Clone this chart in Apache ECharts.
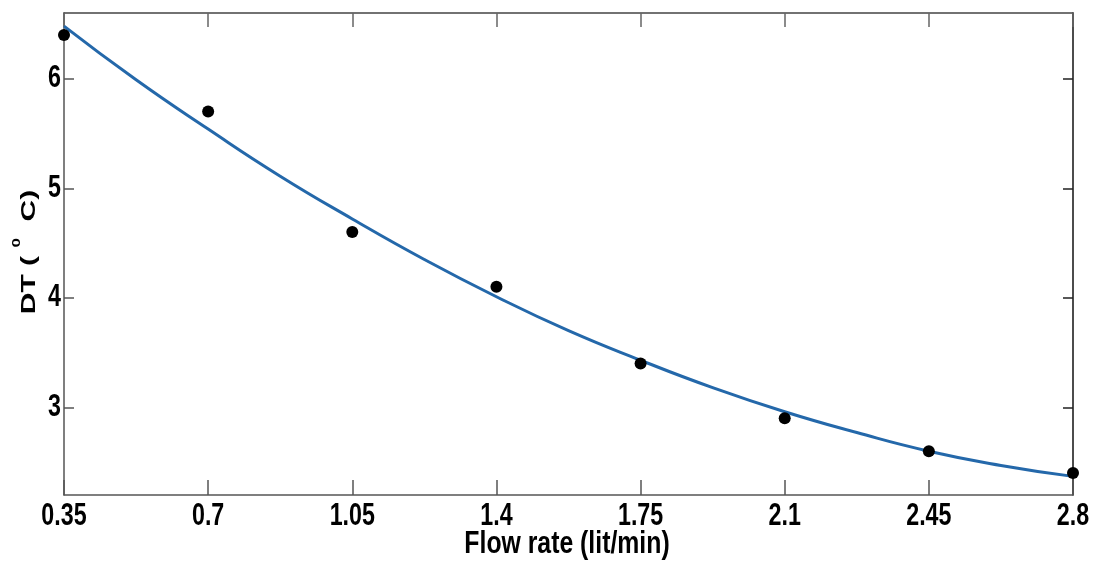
<!DOCTYPE html>
<html>
<head>
<meta charset="utf-8">
<script src="https://cdn.jsdelivr.net/npm/echarts@6/dist/echarts.min.js"></script>
<style>
html,body{margin:0;padding:0;background:#fff;}
#chart{width:1093px;height:571px;}
</style>
</head>
<body>
<div id="chart"></div>
<script>
// Measured points
const flowRate = [0.35, 0.7, 1.05, 1.4, 1.75, 2.1, 2.45, 2.8];
const deltaT   = [6.4, 5.7, 4.6, 4.1, 3.4, 2.9, 2.6, 2.4];
// Fitted curve
const curveX = [0.35, 0.525, 0.7, 0.875, 1.05, 1.225, 1.4, 1.575, 1.75, 1.925, 2.1, 2.275, 2.45, 2.625, 2.8];
const curveY = [6.48, 5.99, 5.54, 5.11, 4.72, 4.35, 4.01, 3.70, 3.43, 3.18, 2.96, 2.77, 2.60, 2.47, 2.37];
// Tick labels
const xTicks = [0.35, 0.7, 1.05, 1.4, 1.75, 2.1, 2.45, 2.8];
const yTicks = [3, 4, 5, 6];
const xTitle = 'Flow rate (lit/min)';

const FONT = '"Liberation Sans", Arial, sans-serif';
const chart = echarts.init(document.getElementById('chart'), null, {renderer: 'canvas'});
const option = {
  animation: false,
  backgroundColor: '#ffffff',
  grid: {left: 64, right: 20, top: 13, bottom: 76, containLabel: false},
  xAxis: [{
    type: 'value', min: 0.35, max: 2.8, interval: 0.35, position: 'bottom',
    axisLine: {show: true, onZero: false, lineStyle: {color: '#555', width: 1.5}},
    axisTick: {show: true, inside: true, length: 15, lineStyle: {color: '#555', width: 1.5}},
    axisLabel: {show: false},
    splitLine: {show: false}
  }, {
    type: 'value', min: 0.35, max: 2.8, interval: 0.35, position: 'top',
    axisLine: {show: true, onZero: false, lineStyle: {color: '#444', width: 1.5}},
    axisTick: {show: true, inside: true, length: 14, lineStyle: {color: '#666', width: 1.5}},
    axisLabel: {show: false},
    splitLine: {show: false}
  }],
  yAxis: [{
    type: 'value', min: 2.2, max: 6.6, position: 'left',
    axisLine: {show: true, onZero: false, lineStyle: {color: '#555', width: 1.5}},
    axisTick: {show: true, inside: true, length: 10, customValues: yTicks, lineStyle: {color: '#555', width: 1.5}},
    axisLabel: {show: false},
    splitLine: {show: false}
  }, {
    type: 'value', min: 2.2, max: 6.6, position: 'right',
    axisLine: {show: true, onZero: false, lineStyle: {color: '#111', width: 1.5}},
    axisTick: {show: true, inside: true, length: 10, customValues: yTicks, lineStyle: {color: '#222', width: 1.5}},
    axisLabel: {show: false},
    splitLine: {show: false}
  }],
  series: [{
    type: 'line', name: 'fit', xAxisIndex: 0, yAxisIndex: 0,
    data: curveX.map((x, i) => [x, curveY[i]]),
    smooth: true, showSymbol: false, symbol: 'none',
    lineStyle: {color: '#2468aa', width: 3}, z: 2, clip: false
  }, {
    type: 'scatter', name: 'data', xAxisIndex: 0, yAxisIndex: 0,
    data: flowRate.map((x, i) => [x, deltaT[i]]),
    symbol: 'circle', symbolSize: 12,
    itemStyle: {color: '#000', opacity: 1}, z: 3, clip: false
  }]
};
chart.setOption(option);

// Tick labels and axis titles as text, placed through the axes' own scales
const gfx = [];
xTicks.forEach(v => {
  const px = chart.convertToPixel({xAxisIndex: 0}, v);
  gfx.push({type: 'text', x: px, y: 516, scaleX: 0.75, z: 10,
    style: {text: String(v), fontFamily: FONT, fontWeight: 'bold', fontSize: 31, fill: '#000', align: 'center', verticalAlign: 'middle'}});
});
yTicks.forEach(v => {
  const py = chart.convertToPixel({yAxisIndex: 0}, v);
  gfx.push({type: 'text', x: 61, y: py, scaleX: 0.75, z: 10,
    style: {text: String(v), fontFamily: FONT, fontWeight: 'bold', fontSize: 31, fill: '#000', align: 'right', verticalAlign: 'middle'}});
});
gfx.push({type: 'text', x: 567, y: 544, scaleX: 0.8, z: 10,
  style: {text: xTitle, fontFamily: FONT, fontWeight: 'bold', fontSize: 31, fill: '#000', align: 'center', verticalAlign: 'middle'}});
gfx.push({type: 'text', x: 25, y: 252, rotation: Math.PI / 2, scaleY: 0.68, z: 10,
  style: {text: '{a|DT ( }{s|0}{a|  C)}', align: 'center', verticalAlign: 'middle',
    rich: {
      a: {fontFamily: FONT, fontWeight: 'bold', fontSize: 30, fill: '#000', verticalAlign: 'bottom', padding: [12, 0, 0, 0]},
      s: {fontFamily: FONT, fontWeight: 'bold', fontSize: 17, fill: '#000', verticalAlign: 'top'}
    }}});
chart.setOption({graphic: gfx});
</script>
</body>
</html>
